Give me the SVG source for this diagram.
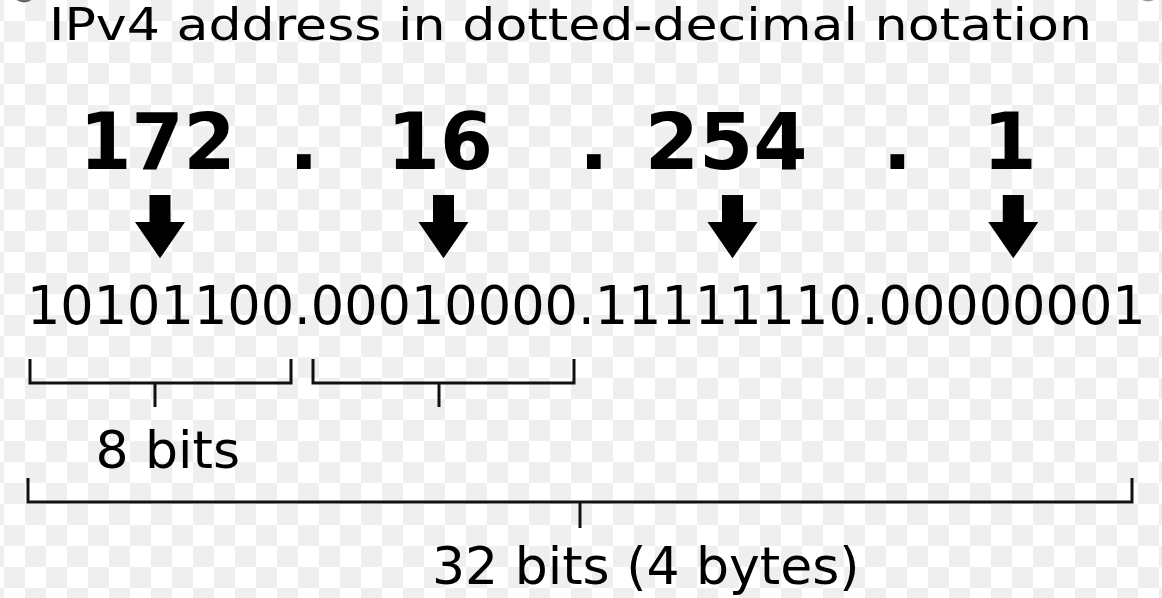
<svg xmlns="http://www.w3.org/2000/svg" width="1162" height="598" viewBox="0 0 1162 598">
  <style>
    .title { font-family: "DejaVu Sans", "Liberation Sans", sans-serif; font-size: 45px; fill: #000; }
    .oct { font-family: "DejaVu Sans", "Liberation Sans", sans-serif; font-size: 78px; font-weight: bold; fill: #000; }
    .bin { font-family: "DejaVu Sans", "Liberation Sans", sans-serif; font-size: 52.5px; fill: #000; }
    .lbl { font-family: "DejaVu Sans", "Liberation Sans", sans-serif; font-size: 52px; fill: #000; }
    .brk { fill: none; stroke: #111; stroke-width: 3; stroke-linejoin: miter; stroke-linecap: butt; }
    .arr { fill: #000; }
  </style>
  <defs>
    <pattern id="checker" patternUnits="userSpaceOnUse" x="4" y="0" width="42" height="42">
      <rect width="42" height="42" fill="#ffffff"/>
      <rect x="21" y="0" width="21" height="21" fill="#efefef"/>
      <rect x="0" y="21" width="21" height="21" fill="#efefef"/>
    </pattern>
    <path id="downArrow" d="M -10.5 195 H 10.5 V 222 H 25 L 0 258.3 L -25 222 H -10.5 Z"/>
  </defs>

  <rect width="1162" height="598" fill="url(#checker)"/>
  <circle cx="24" cy="-10" r="12.5" fill="#666"/>
  <circle cx="1148" cy="-11" r="12.5" fill="#9a9a9a"/>

  <g id="title">
    <text class="title" x="49" y="39.5" textLength="1043" lengthAdjust="spacingAndGlyphs">IPv4 address in dotted-decimal notation</text>
  </g>

  <g id="octet-172"><text class="oct" x="79.5" y="168.5" textLength="156" lengthAdjust="spacingAndGlyphs">172</text></g>
  <g id="dot-1"><text class="oct" x="289" y="168.5">.</text></g>
  <g id="octet-16"><text class="oct" x="387" y="168.5" textLength="106" lengthAdjust="spacingAndGlyphs">16</text></g>
  <g id="dot-2"><text class="oct" x="579" y="168.5">.</text></g>
  <g id="octet-254"><text class="oct" x="644.7" y="168.5">254</text></g>
  <g id="dot-3"><text class="oct" x="882.5" y="168.5">.</text></g>
  <g id="octet-1"><text class="oct" x="982.5" y="168.5">1</text></g>

  <g id="binary">
    <text class="bin" x="26.9" y="324" textLength="1118.8" lengthAdjust="spacingAndGlyphs">10101100.00010000.11111110.00000001</text>
  </g>

  <g id="label-8bits"><text class="lbl" x="95.5" y="467.5">8 bits</text></g>
  <g id="label-32bits"><text class="lbl" x="432" y="583.5">32 bits (4 bytes)</text></g>

  <g id="connectors">
    <use href="#downArrow" class="arr" transform="translate(160,0)"/>
    <use href="#downArrow" class="arr" transform="translate(443.5,0)"/>
    <use href="#downArrow" class="arr" transform="translate(732.5,0)"/>
    <use href="#downArrow" class="arr" transform="translate(1013.3,0)"/>
    <path class="brk" d="M 30 359 V 383 H 291 V 359"/>
    <path class="brk" d="M 155 383 V 407"/>
    <path class="brk" d="M 313 359 V 383 H 574 V 359"/>
    <path class="brk" d="M 439 383 V 407"/>
    <path class="brk" d="M 28 478 V 502 H 1132 V 478"/>
    <path class="brk" d="M 580 502 V 528"/>
  </g>
</svg>
